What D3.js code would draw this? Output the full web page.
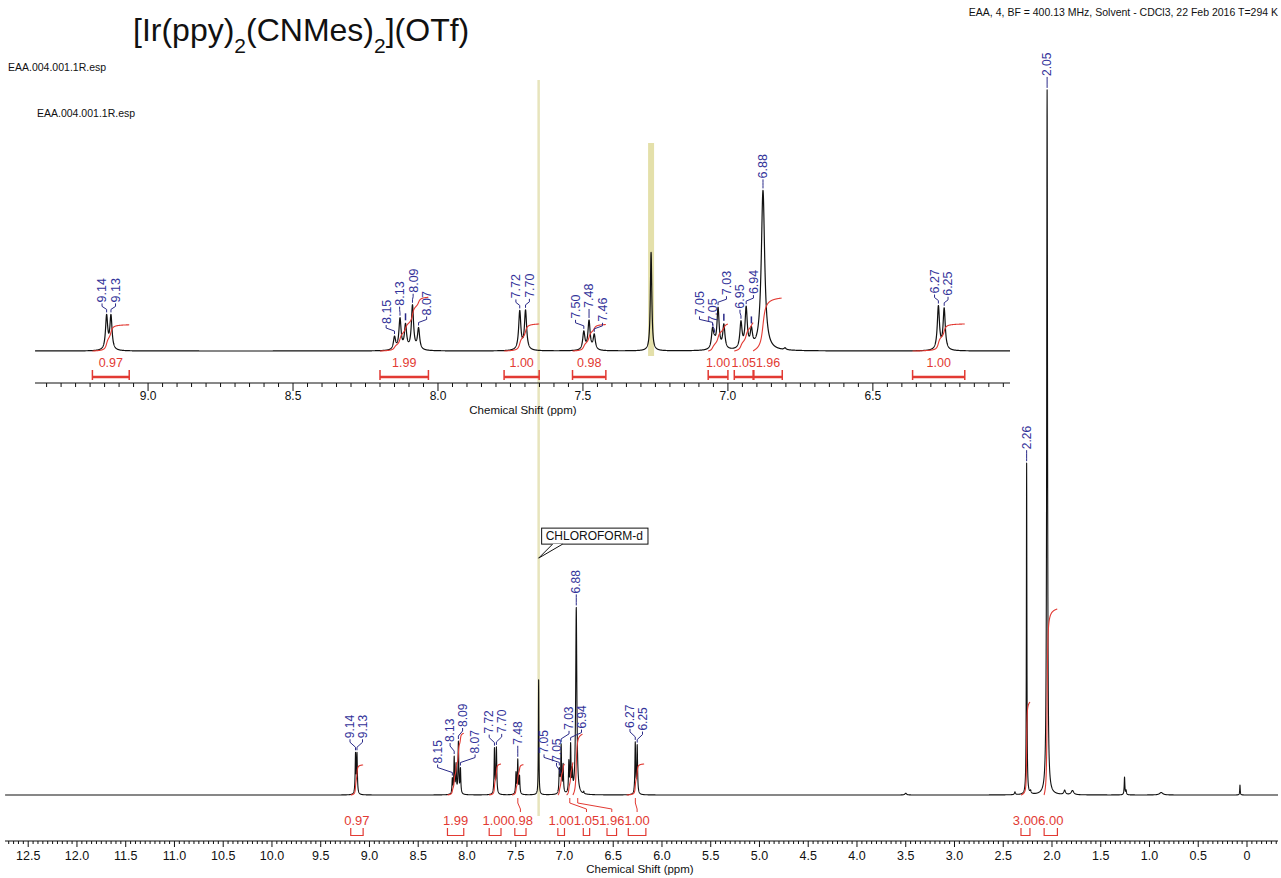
<!DOCTYPE html>
<html><head><meta charset="utf-8">
<script src="https://cdn.jsdelivr.net/npm/d3@7"></script>
<style>
body{margin:0;background:#fff}
svg{display:block}
text{font-family:"Liberation Sans",Arial,Helvetica,sans-serif}
</style>
</head><body>
<svg id="c" width="1281" height="878"></svg>
<script>
// ---------------- DATA ----------------
const titleParts = ["[Ir(ppy)", "2", "(CNMes)", "2", "](OTf)"];
const headerText = "EAA, 4, BF = 400.13 MHz, Solvent - CDCl3, 22 Feb 2016 T=294 K";
const fileName = "EAA.004.001.1R.esp";
const axisTitle = "Chemical Shift (ppm)";

// peak list: chemical shift (ppm), intensity (2.05 singlet = 100), half-width (ppm), label
const peakShifts = [9.143, 9.128, 8.150, 8.131, 8.112, 8.088, 8.067, 7.718, 7.698, 7.497, 7.479, 7.461,
  7.265, 7.053, 7.046, 7.034, 7.014, 6.955, 6.937, 6.919, 6.879, 6.803, 6.274, 6.254,
  3.500, 2.380, 2.260, 2.220, 2.050, 1.870, 1.790, 1.256, 1.240, 0.880, 0.072];
const peakHeights = [5.6, 5.6, 2.1, 5.1, 4.0, 7.3, 3.5, 6.4, 6.5, 3.0, 4.8, 2.5,
  16.3, 3.2, 0.8, 6.7, 4.0, 4.3, 6.6, 2.8, 26.5, 0.3, 7.2, 6.8,
  0.25, 0.4, 47.0, 0.4, 100, 0.6, 0.6, 2.5, 0.6, 0.35, 1.4];
const peakHWHM = [0.0045, 0.0045, 0.0045, 0.0045, 0.0045, 0.0045, 0.0045, 0.0045, 0.0045, 0.0045, 0.0045, 0.0045,
  0.003, 0.0045, 0.0045, 0.0045, 0.0045, 0.0045, 0.0045, 0.0045, 0.007, 0.004, 0.0045, 0.0045,
  0.01, 0.006, 0.003, 0.006, 0.005, 0.01, 0.015, 0.004, 0.004, 0.02, 0.003];
const peakLabels = ["9.14", "9.13", "8.15", "8.13", "", "8.09", "8.07", "7.72", "7.70", "7.50", "7.48", "7.46",
  "", "7.05", "7.05", "7.03", "", "6.95", "6.94", "", "6.88", "", "6.27", "6.25",
  "", "", "2.26", "", "2.05", "", "", "", "", "", ""];
const mainHiddenLabels = [9, 11, 17];        // labelled only in the expansion
const insetMarkOnly = [4, 16, 19];           // picked peaks without a printed value

// integrals: region start / end (ppm) and value
const integralStarts = [9.192, 8.200, 7.772, 7.536, 7.068, 6.978, 6.913, 6.363, 2.318, 2.082];
const integralEnds   = [9.065, 8.033, 7.651, 7.421, 7.000, 6.913, 6.815, 6.183, 2.226, 1.946];
const integralValues = [0.97, 1.99, 1.00, 0.98, 1.00, 1.05, 1.96, 1.00, 3.00, 6.00];

const solventShift = 7.265;
const solventName = "CHLOROFORM-d";
const solventCalloutHeight = 33.6;

const mainTickValues = d3.range(-6, 255).map(i => +(i * 0.05).toFixed(2));
const insetTickValues = d3.range(121, 188).map(i => +(i * 0.05).toFixed(2));

// ---------------- RENDER ----------------
const svg = d3.select("#c");
const RED = "#e23a33", BLUE = "#33339a", BLUE_L = "#2a2a88";

function spec(p) {
  let s = 0;
  for (let i = 0; i < peakShifts.length; i++) {
    const u = (p - peakShifts[i]) / peakHWHM[i];
    s += peakHeights[i] / (1 + u * u);
  }
  return s;
}

// scales
const xMain = d3.scaleLinear().domain([12.738, -0.318]).range([5, 1278]);
const yMain = d3.scaleLinear().domain([0, 100]).range([795, 90]);
const xIn = d3.scaleLinear().domain([9.39, 6.027]).range([35, 1010]);
const yIn = d3.scaleLinear().domain([0, 27]).range([351, 188]);
const intMainPx = 31, intInPx = 27;

// header texts
const title = svg.append("text").attr("x", 133).attr("y", 41).attr("font-size", 32).attr("fill", "#111");
titleParts.forEach((t, i) => {
  const sub = i % 2 === 1;
  title.append("tspan").attr("font-size", sub ? 21 : 32).attr("dy", i === 0 ? 0 : (sub ? 12 : -12)).text(t);
});
svg.append("text").attr("x", 1278).attr("y", 16).attr("text-anchor", "end").attr("font-size", 10.5).attr("fill", "#111").text(headerText);
svg.append("text").attr("x", 8).attr("y", 71).attr("font-size", 10.5).attr("fill", "#111").text(fileName);
svg.append("text").attr("x", 37).attr("y", 117).attr("font-size", 10.5).attr("fill", "#111").text(fileName);

// solvent markers
svg.append("line").attr("x1", xMain(solventShift)).attr("x2", xMain(solventShift))
  .attr("y1", 80).attr("y2", 816).attr("stroke", "#e7e4bc").attr("stroke-width", 2.5);
svg.append("line").attr("x1", xIn(solventShift)).attr("x2", xIn(solventShift))
  .attr("y1", 143).attr("y2", 356).attr("stroke", "#e4e0aa").attr("stroke-width", 6);

function sampleGrid(lo, hi, step) {
  const g = d3.range(lo, hi, step);
  peakShifts.forEach(p => { if (p > lo && p < hi) g.push(p); });
  return g.sort((a, b) => a - b);
}

function drawAxis(g, x, y0, ticks, minorLen, majorLen, fs, labelY, titleX, titleY) {
  g.append("line").attr("x1", x.range()[0]).attr("x2", x.range()[1]).attr("y1", y0).attr("y2", y0)
    .attr("stroke", "#111").attr("stroke-width", 1);
  ticks.forEach(t => {
    const major = Math.abs(t * 2 - Math.round(t * 2)) < 1e-6;
    g.append("line").attr("x1", x(t)).attr("x2", x(t)).attr("y1", y0).attr("y2", y0 + (major ? majorLen : minorLen))
      .attr("stroke", "#111").attr("stroke-width", 1);
    if (major) {
      g.append("text").attr("x", x(t)).attr("y", labelY).attr("text-anchor", "middle").attr("font-size", fs)
        .attr("fill", "#111").text(t === 0 ? "0" : t.toFixed(1));
    }
  });
  g.append("text").attr("x", titleX).attr("y", titleY).attr("text-anchor", "middle").attr("font-size", 11.5)
    .attr("fill", "#111").text(axisTitle);
}

function drawSpectrum(g, x, y, lo, hi, step, sw) {
  const grid = sampleGrid(lo, hi, step);
  g.append("path").attr("d", d3.line().x(d => x(d)).y(d => y(spec(d)))(grid))
    .attr("fill", "none").attr("stroke", "#111").attr("stroke-width", sw).attr("stroke-linejoin", "round");
}

function integralCurve(a, b) {
  const step = 0.0002, pts = [];
  let cum = 0, prev = spec(a);
  pts.push([a, 0]);
  for (let p = a - step; p > b; p -= step) {
    const v = spec(p); cum += (prev + v) / 2 * step; prev = v; pts.push([p, cum]);
  }
  const v = spec(b); cum += (prev + v) / 2 * (pts[pts.length - 1][0] - b); pts.push([b, cum]);
  return pts.map(d => [d[0], d[1] / cum]);
}

function drawIntegrals(g, x, base, pxPerUnit, idx) {
  idx.forEach(i => {
    const pts = integralCurve(integralStarts[i], integralEnds[i]);
    g.append("path").attr("d", d3.line().x(d => x(d[0])).y(d => base - d[1] * integralValues[i] * pxPerUnit)(pts))
      .attr("fill", "none").attr("stroke", RED).attr("stroke-width", 1.1);
  });
}

function layoutIntegralLabels(g, x, idx, fs, y, pad) {
  const items = idx.map(i => {
    const t = g.append("text").attr("font-size", fs).attr("text-anchor", "middle").attr("fill", RED)
      .attr("y", y).text(integralValues[i].toFixed(2));
    const x0 = x(integralStarts[i]), x1 = x(integralEnds[i]);
    return { i, t, w: t.node().getComputedTextLength(), c: (x0 + x1) / 2, bw: Math.abs(x1 - x0) };
  }).sort((a, b) => a.c - b.c);
  let prev = null;
  items.forEach(it => {
    it.lx = it.c;
    if (prev) it.lx = Math.max(it.c, prev.lx + (prev.w + it.w) / 2 + pad);
    it.t.attr("x", it.lx);
    prev = it;
  });
  return items;
}

function layoutPeakLabels(g, x, y, gap, sep, fs, vMargin, filterFn) {
  const items = [];
  peakShifts.forEach((p, i) => {
    if (!peakLabels[i] || !filterFn(i)) return;
    const ax = x(p), top = y(spec(p));
    const t = g.append("text").attr("font-size", fs).attr("fill", BLUE).attr("dy", "0.35em").text(peakLabels[i]);
    const len = t.node().getComputedTextLength();
    const bottom = top - gap;
    items.push({ i, t, ax, x: ax, peakTop: top, bottom, top: bottom - len });
  });
  for (let it = 0; it < 600; it++) {
    let moved = false;
    items.sort((a, b) => a.x - b.x || a.i - b.i);
    for (let a = 0; a < items.length; a++) for (let b = a + 1; b < items.length; b++) {
      const A = items[a], B = items[b];
      if (A.top > B.bottom + vMargin || B.top > A.bottom + vMargin) continue;
      const d = B.x - A.x;
      if (d < sep - 0.01) { const s = (sep - d) / 2; A.x -= s; B.x += s; moved = true; }
    }
    if (!moved) break;
  }
  items.forEach(d => {
    d.t.attr("transform", `translate(${d.x},${d.bottom}) rotate(-90)`);
    g.append("path").attr("d", `M${d.x},${d.bottom + 1}V${d.bottom + 4}L${d.ax},${d.peakTop - 5}V${d.peakTop - 2}`)
      .attr("fill", "none").attr("stroke", BLUE_L).attr("stroke-width", 1);
  });
}

// ---------- inset (expansion) ----------
const gi = svg.append("g");
drawAxis(gi, xIn, 383, insetTickValues, 4, 8, 12, 400, 523, 414);
drawSpectrum(gi, xIn, yIn, 6.027, 9.39, 0.0004, 1.2);
const insetIdx = d3.range(8);
drawIntegrals(gi, xIn, 351, intInPx, insetIdx);
const insetInt = layoutIntegralLabels(gi, xIn, insetIdx, 12.5, 367, 0);
insetInt.forEach(it => {
  const x0 = it.lx - it.bw / 2, x1 = it.lx + it.bw / 2;
  gi.append("path").attr("d", `M${x0},370V380M${x1},370V380`).attr("stroke", RED).attr("stroke-width", 1.5);
  gi.append("path").attr("d", `M${x0},377H${x1}`).attr("stroke", RED).attr("stroke-width", 2.5);
});
layoutPeakLabels(gi, xIn, yIn, 12, 13.5, 12.5, 10, i => peakShifts[i] < 9.39 && peakShifts[i] > 6.027);
insetMarkOnly.forEach(i => {
  const px = xIn(peakShifts[i]), top = yIn(spec(peakShifts[i]));
  gi.append("line").attr("x1", px).attr("x2", px).attr("y1", top - 3).attr("y2", top - 10)
    .attr("stroke", BLUE_L).attr("stroke-width", 1.5);
});

// ---------- main spectrum ----------
const gm = svg.append("g");
drawSpectrum(gm, xMain, yMain, -0.318, 12.738, 0.001, 1.1);
const mainIdx = d3.range(integralValues.length);
drawIntegrals(gm, xMain, 795, intMainPx, mainIdx);
const mainInt = layoutIntegralLabels(gm, xMain, mainIdx, 13, 825, 0);
mainInt.forEach(it => {
  const x0 = it.lx - it.bw / 2, x1 = it.lx + it.bw / 2;
  gm.append("path").attr("d", `M${x0},828V835.5H${x1}V828`).attr("fill", "none").attr("stroke", RED).attr("stroke-width", 1.2);
  if (Math.abs(it.lx - it.c) > 1.5) {
    gm.append("path").attr("d", `M${it.c},798V803L${it.lx},809V812`).attr("fill", "none").attr("stroke", RED).attr("stroke-width", 1);
  }
});
layoutPeakLabels(gm, xMain, yMain, 14, 12.5, 12, 25, i => !mainHiddenLabels.includes(i));
drawAxis(gm, xMain, 841, mainTickValues, 3, 6, 12.5, 860, 640, 873);

// solvent callout
const cx = xMain(solventShift), cy = yMain(solventCalloutHeight);
const ct = gm.append("text").attr("x", cx + 7).attr("y", cy - 18).attr("font-size", 12).attr("fill", "#111").text(solventName);
const cw = ct.node().getComputedTextLength() + 9;
gm.insert("rect", "text:last-of-type").attr("x", cx + 3).attr("y", cy - 30).attr("width", cw).attr("height", 16)
  .attr("fill", "#fff").attr("stroke", "#111").attr("stroke-width", 1);
ct.raise();
gm.append("path").attr("d", `M${cx + 14},${cy - 14}L${cx},${cy}L${cx + 24},${cy - 14}`)
  .attr("fill", "#fff").attr("stroke", "#111").attr("stroke-width", 1);
</script>
</body></html>
